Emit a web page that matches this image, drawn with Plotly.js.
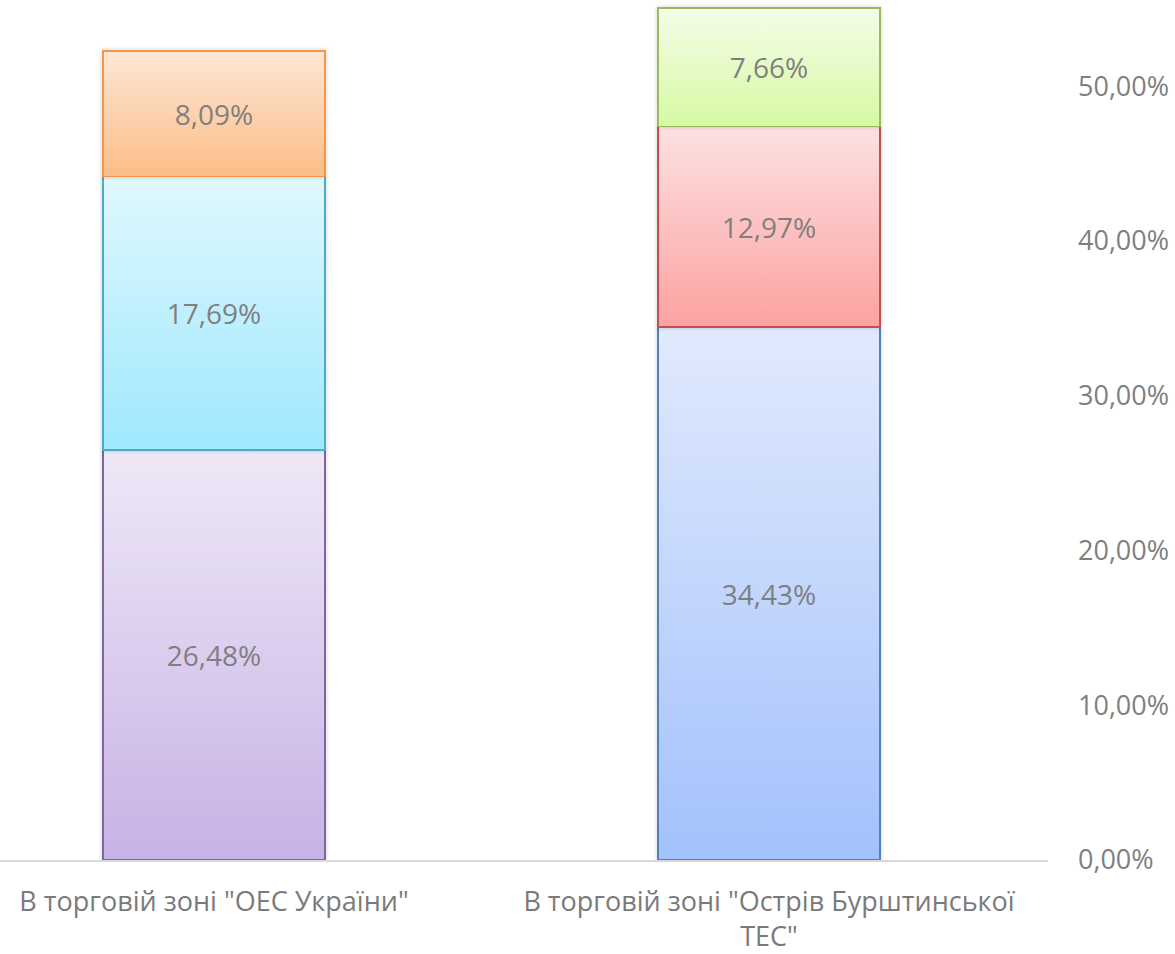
<!DOCTYPE html>
<html>
<head>
<meta charset="utf-8">
<script src="https://cdn.plot.ly/plotly-3.0.1.min.js"></script>
<style>html,body{margin:0;padding:0;background:#fff;}#chart{width:1175px;height:954px;}</style>
</head>
<body>
<div id="chart"></div>
<script>
const categories = ['В торговій зоні "ОЕС України"', 'В торговій зоні "Острів Бурштинської<br>ТЕС"'];
const bottomValues = [26.48, 34.43];
const middleValues = [17.69, 12.97];
const topValues = [8.09, 7.66];
const yTicks = [0, 10, 20, 30, 40, 50];
const yTickText = ['0,00%', '10,00%', '20,00%', '30,00%', '40,00%', '50,00%'];

// per-layer, per-bar styling: [top colour, bottom colour, border]
const styles = [
  [['#efe8f7', '#c7b2e5', '#8064a2'], ['#e1eafd', '#a3c1fc', '#4f81bd']],
  [['#e0f8fd', '#9fe8fd', '#4bacc6'], ['#fde1e1', '#fca2a1', '#c0504d']],
  [['#fde7d6', '#fcbd87', '#f79646'], ['#f5fde9', '#d6f9a4', '#9bbb59']]
];
const layers = [bottomValues, middleValues, topValues];

const traces = layers.map((vals, li) => ({
  type: 'bar',
  x: [0, 1],
  y: vals,
  width: 0.4,
  marker: {
    color: styles[li].map(s => s[1]),
    line: {color: styles[li].map(s => s[2]), width: 1.6}
  },
  texttemplate: '%{y:.2f}%',
  textposition: 'inside',
  insidetextanchor: 'middle',
  textangle: 0,
  textfont: {family: 'Open Sans', size: 28, color: '#7f7f7f'},
  hoverinfo: 'skip',
  showlegend: false
}));

const layout = {
  width: 1175, height: 954,
  margin: {l: 0, r: 127, t: 0, b: 94},
  barmode: 'stack',
  separators: ', ',
  paper_bgcolor: '#ffffff',
  plot_bgcolor: '#ffffff',
  font: {family: 'Open Sans', color: '#7f7f7f', size: 26},
  xaxis: {
    range: [-0.3856, 1.5027],
    tickvals: [0, 1],
    ticktext: categories,
    showline: true, linecolor: '#d9d9d9', linewidth: 1.5,
    showgrid: false, zeroline: false, ticks: '',
    tickfont: {family: 'Open Sans', size: 27, color: '#7a7a7a'},
    ticklabelstandoff: 17
  },
  yaxis: {
    side: 'right',
    range: [0, 55.56],
    tickvals: yTicks,
    ticktext: yTickText,
    showline: false, showgrid: false, zeroline: false, ticks: '',
    tickfont: {family: 'Open Sans', size: 27, color: '#7f7f7f'},
    ticklabelstandoff: 29
  }
};

Plotly.newPlot('chart', traces, layout, {displayModeBar: false, staticPlot: true}).then(gd => {
  const svg = gd.querySelector('svg.main-svg');
  const ns = 'http://www.w3.org/2000/svg';
  let defs = svg.querySelector('defs');
  if (!defs) { defs = document.createElementNS(ns, 'defs'); svg.insertBefore(defs, svg.firstChild); }
  const filt = document.createElementNS(ns, 'filter');
  filt.setAttribute('id', 'barshadow');
  filt.setAttribute('x', '-10%'); filt.setAttribute('y', '-10%');
  filt.setAttribute('width', '120%'); filt.setAttribute('height', '120%');
  filt.innerHTML = '<feDropShadow dx="0" dy="0" stdDeviation="2" flood-color="#000" flood-opacity="0.18"/>';
  defs.appendChild(filt);
  const traceGroups = gd.querySelectorAll('.barlayer .trace');
  traceGroups.forEach((tg, li) => {
    tg.querySelectorAll('.point').forEach((pt, pi) => {
      const s = styles[li][pi];
      const id = 'grad_' + li + '_' + pi;
      const lg = document.createElementNS(ns, 'linearGradient');
      lg.setAttribute('id', id);
      lg.setAttribute('x1', '0'); lg.setAttribute('y1', '0');
      lg.setAttribute('x2', '0'); lg.setAttribute('y2', '1');
      lg.innerHTML = '<stop offset="0" stop-color="' + s[0] + '"/><stop offset="1" stop-color="' + s[1] + '"/>';
      defs.appendChild(lg);
      const path = pt.querySelector('path');
      if (path) {
        path.style.fill = 'url(#' + id + ')';
        path.style.fillOpacity = 1;
        path.setAttribute('filter', 'url(#barshadow)');
      }
    });
  });
});
</script>
</body>
</html>
